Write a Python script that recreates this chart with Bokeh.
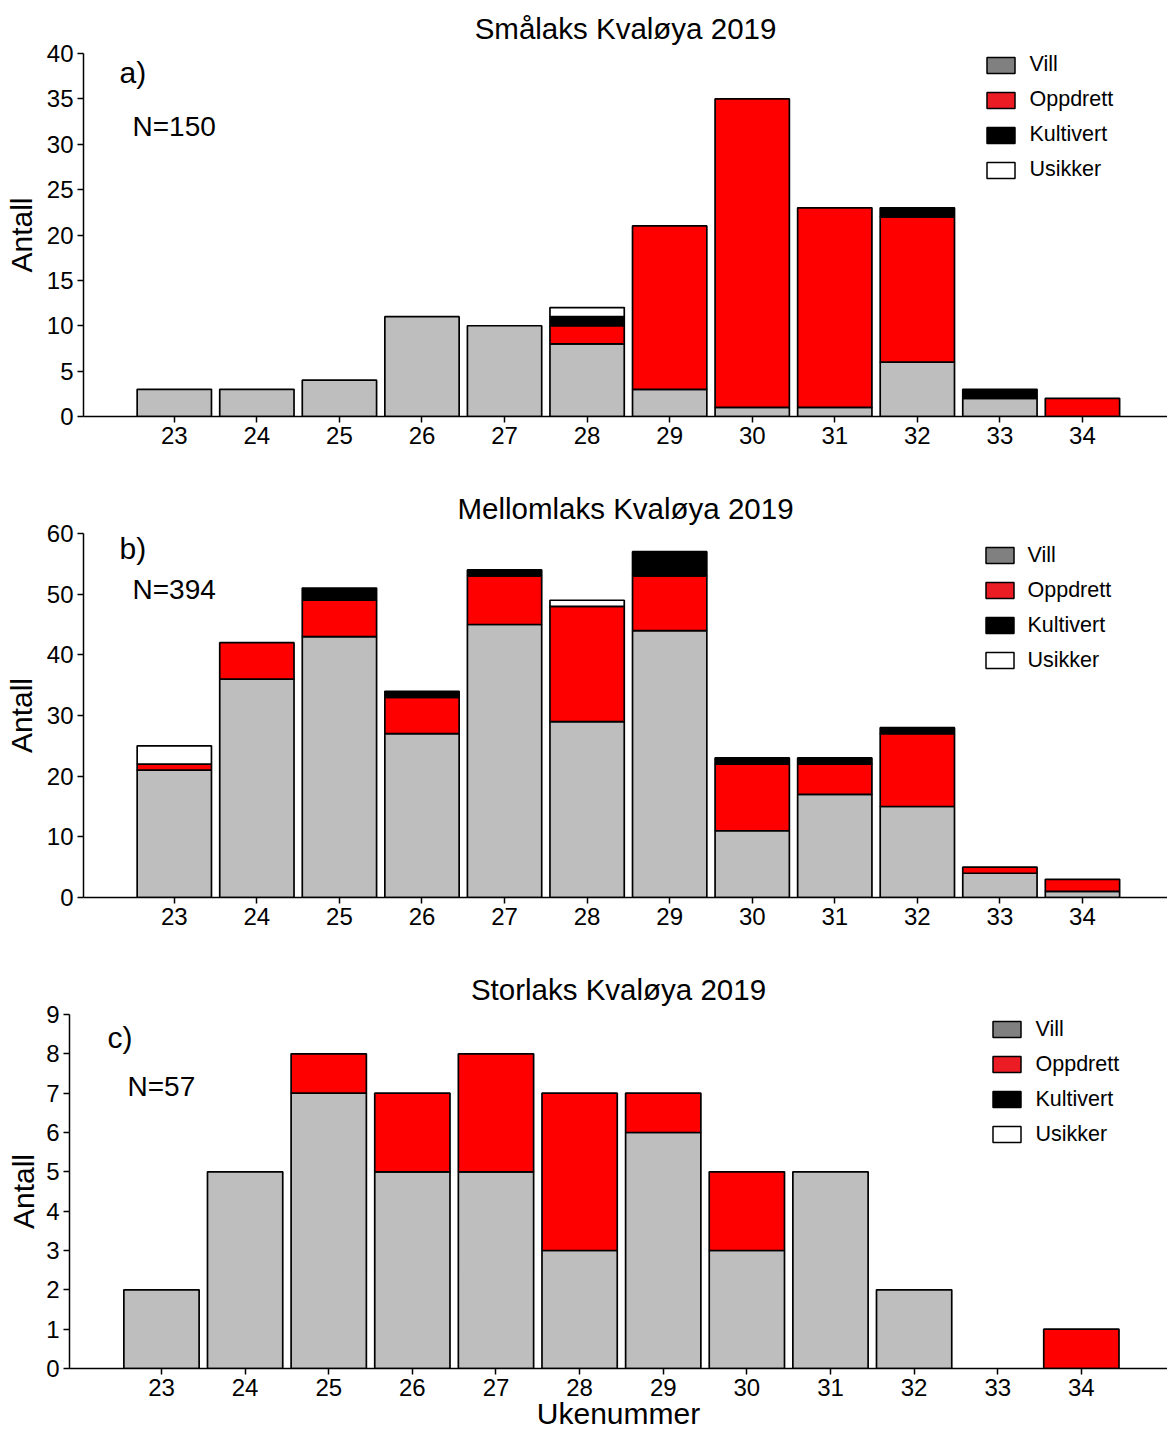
from bokeh.plotting import figure
from bokeh.layouts import column
from bokeh.models import Range1d, FixedTicker, Legend, LegendItem, Label, ColumnDataSource
from bokeh.embed import file_html
from bokeh.resources import INLINE

# Week numbers on the x axis
weeks = [23, 24, 25, 26, 27, 28, 29, 30, 31, 32, 33, 34]

# Origin categories (stacking order bottom -> top)
series = ["Vill", "Oppdrett", "Kultivert", "Usikker"]
bar_colors = ["#BEBEBE", "#FF0000", "#000000", "#FFFFFF"]
legend_colors = ["#808080", "#EC1C24", "#000000", "#FFFFFF"]

# a) Smålaks
smalaks_vill = [3, 3, 4, 11, 10, 8, 3, 1, 1, 6, 2, 0]
smalaks_oppdrett = [0, 0, 0, 0, 0, 2, 18, 34, 22, 16, 0, 2]
smalaks_kultivert = [0, 0, 0, 0, 0, 1, 0, 0, 0, 1, 1, 0]
smalaks_usikker = [0, 0, 0, 0, 0, 1, 0, 0, 0, 0, 0, 0]

# b) Mellomlaks
mellom_vill = [21, 36, 43, 27, 45, 29, 44, 11, 17, 15, 4, 1]
mellom_oppdrett = [1, 6, 6, 6, 8, 19, 9, 11, 5, 12, 1, 2]
mellom_kultivert = [0, 0, 2, 1, 1, 0, 4, 1, 1, 1, 0, 0]
mellom_usikker = [3, 0, 0, 0, 0, 1, 0, 0, 0, 0, 0, 0]

# c) Storlaks
stor_vill = [2, 5, 7, 5, 5, 3, 6, 3, 5, 2, 0, 0]
stor_oppdrett = [0, 0, 1, 2, 3, 4, 1, 2, 0, 0, 0, 1]
stor_kultivert = [0, 0, 0, 0, 0, 0, 0, 0, 0, 0, 0, 0]
stor_usikker = [0, 0, 0, 0, 0, 0, 0, 0, 0, 0, 0, 0]

FONT = "Liberation Sans"
X_START, X_END = 21.9, 35.03
PAGE_W = 1167
NAN = float("nan")


def make_panel(title, counts, y_max, y_step, border_top, frame_h, border_bottom,
               border_left, ylabel_standoff, letter, letter_pos, n_text, n_pos,
               legend_left, legend_first_center, legend_standoff, x_label=None):
    height = border_top + frame_h + border_bottom
    p = figure(width=PAGE_W, height=height, output_backend="svg", toolbar_location=None,
               x_range=Range1d(X_START, X_END), y_range=Range1d(0, y_max),
               min_border_left=border_left, min_border_right=0,
               min_border_top=border_top, min_border_bottom=border_bottom)
    p.frame_align = False
    p.outline_line_color = None
    p.xgrid.visible = False
    p.ygrid.visible = False
    p.background_fill_color = "white"
    p.border_fill_color = "white"

    p.title.text = title
    p.title.align = "center"
    p.title.text_font = FONT
    p.title.text_font_size = "29.5px"
    p.title.text_font_style = "normal"
    p.title.text_color = "black"
    p.title.text_line_height = 1.0
    p.title.standoff = 18

    # stacked bars: each non-empty segment drawn between its bottom and top
    base = [0] * len(weeks)
    for name, color, vals in zip(series, bar_colors, counts):
        xs, bottoms, tops = [], [], []
        for i, v in enumerate(vals):
            if v > 0:
                xs.append(weeks[i])
                bottoms.append(base[i])
                tops.append(base[i] + v)
            base[i] += v
        src = ColumnDataSource(dict(x=xs, bottom=bottoms, top=tops))
        p.vbar(x="x", bottom="bottom", top="top", width=0.9, source=src,
               fill_color=color, line_color="black", line_width=1.7)

    for ax in (p.xaxis[0], p.yaxis[0]):
        ax.axis_line_color = "black"
        ax.axis_line_width = 1.5
        ax.major_tick_line_color = "black"
        ax.major_tick_line_width = 1.5
        ax.major_tick_out = 6
        ax.major_tick_in = 0
        ax.minor_tick_out = 0
        ax.minor_tick_in = 0
        ax.major_label_text_font = FONT
        ax.major_label_text_font_size = "24px"
        ax.major_label_text_color = "black"
        ax.axis_label_text_font = FONT
        ax.axis_label_text_font_size = "30px"
        ax.axis_label_text_font_style = "normal"
        ax.axis_label_text_color = "black"

    p.xaxis.ticker = FixedTicker(ticks=weeks)
    p.xaxis.major_label_standoff = 4
    p.yaxis.ticker = FixedTicker(ticks=list(range(0, y_max + 1, y_step)))
    p.yaxis.major_label_standoff = 4
    p.yaxis.axis_label = "Antall"
    p.yaxis.axis_label_standoff = ylabel_standoff
    if x_label:
        p.xaxis.axis_label = x_label
        p.xaxis.axis_label_standoff = -2

    p.add_layout(Label(x=letter_pos[0], y=letter_pos[1], x_units="screen", y_units="screen",
                       text=letter, text_font=FONT, text_font_size="30px",
                       text_baseline="middle", text_color="black"))
    p.add_layout(Label(x=n_pos[0], y=n_pos[1], x_units="screen", y_units="screen",
                       text=n_text, text_font=FONT, text_font_size="28px",
                       text_baseline="middle", text_color="black"))

    # legend swatches come from hidden renderers carrying the legend colours
    items = []
    for name, color in zip(series, legend_colors):
        r = p.vbar(x=[NAN], top=[NAN], width=0.9, fill_color=color,
                   line_color="black", line_width=1.5)
        items.append(LegendItem(label=name, renderers=[r]))
    glyph_w, glyph_h, label_h, spacing = 35, 20, 20, 10
    legend = Legend(items=items, orientation="vertical",
                    glyph_width=glyph_w, glyph_height=glyph_h, label_height=label_h,
                    spacing=spacing, padding=0, margin=0, label_standoff=legend_standoff,
                    border_line_alpha=0, background_fill_alpha=0,
                    label_text_font=FONT, label_text_font_size="21.5px",
                    label_text_color="black")
    item_h = 25
    legend_h = 4 * item_h + 3 * spacing
    top_rel = legend_first_center - glyph_h / 2.0
    legend.location = (legend_left - border_left - glyph_w * 0.1,
                       frame_h - top_rel - legend_h)
    p.add_layout(legend)
    return p


pa = make_panel("Smålaks Kvaløya 2019",
                [smalaks_vill, smalaks_oppdrett, smalaks_kultivert, smalaks_usikker],
                40, 5, 52, 364, 64, 83, 6,
                "a)", (36, 344), "N=150", (49, 290),
                986, 10, 12)
pb = make_panel("Mellomlaks Kvaløya 2019",
                [mellom_vill, mellom_oppdrett, mellom_kultivert, mellom_usikker],
                60, 10, 53, 364, 63, 83, 6,
                "b)", (36, 349), "N=394", (49, 308),
                985, 19.5, 11)
pc = make_panel("Storlaks Kvaløya 2019",
                [stor_vill, stor_oppdrett, stor_kultivert, stor_usikker],
                9, 1, 54, 354, 64, 69, 3,
                "c)", (38, 331), "N=57", (58, 282),
                992, 12.5, 12, x_label="Ukenummer")

layout = column(pa, pb, pc, spacing=0)
open("out.html", "w").write(file_html(layout, INLINE))
